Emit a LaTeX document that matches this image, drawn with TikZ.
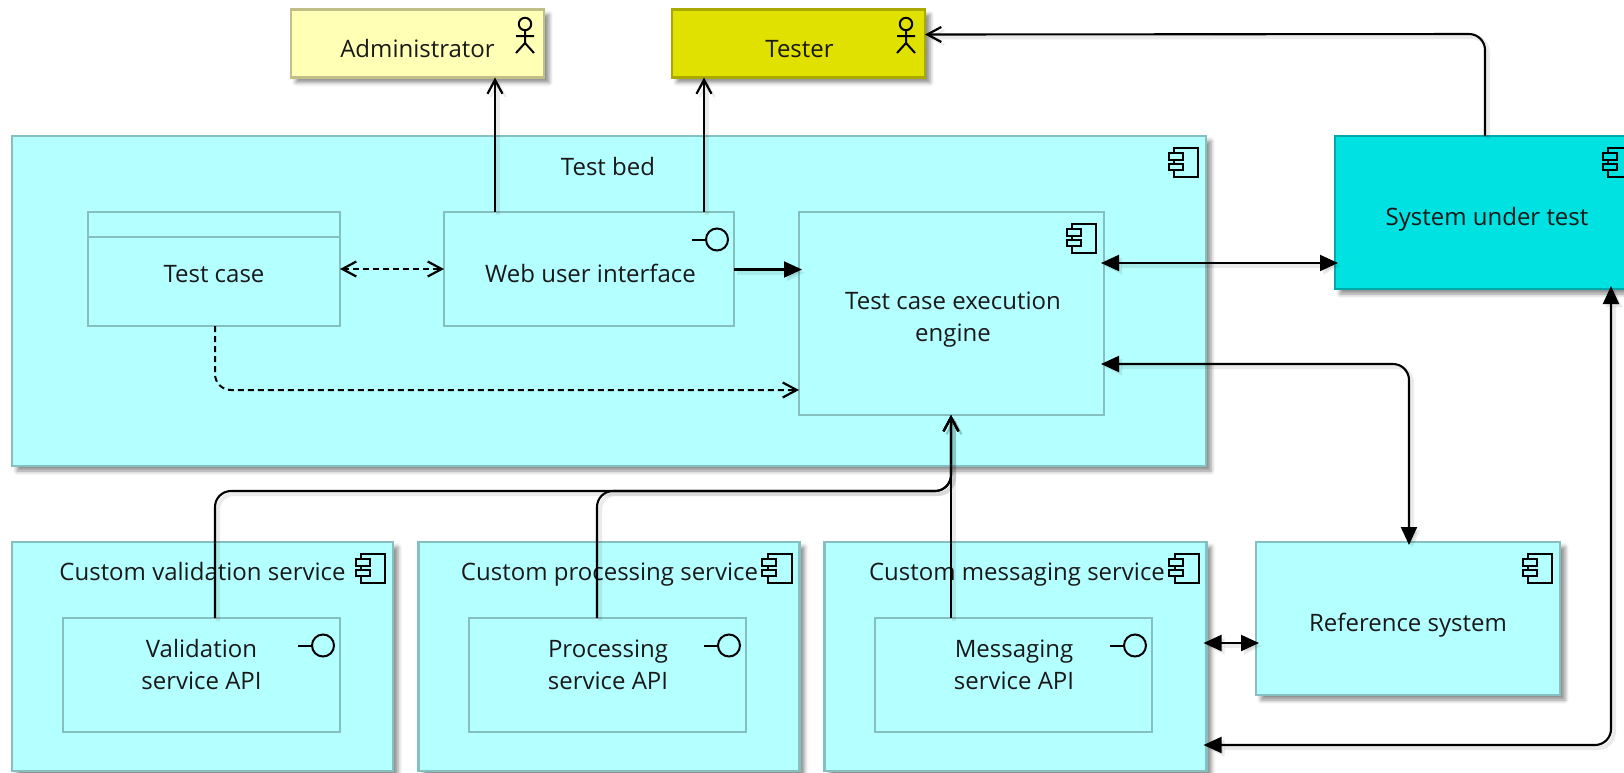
\documentclass[tikz,border=0pt]{standalone}
\usepackage{fontspec}
\setmainfont{Open Sans}
\usetikzlibrary{arrows.meta,calc,shadows.blur}
\definecolor{cyanL}{HTML}{B4FFFF}
\definecolor{cyanB}{HTML}{86BFBF}
\definecolor{cyanD}{HTML}{00E1E1}
\definecolor{cyanDB}{HTML}{00A9A9}
\definecolor{yelL}{HTML}{FFFFB5}
\definecolor{yelLB}{HTML}{BFBF87}
\definecolor{yelD}{HTML}{E1E100}
\definecolor{yelDB}{HTML}{A9A900}
\tikzset{
  base/.style={anchor=north west,inner sep=0pt,outer sep=0pt,line width=2.6pt,draw=cyanB,fill=cyanL},
  outerbox/.style={base,blur shadow={shadow xshift=5pt,shadow yshift=-5pt,shadow blur radius=4pt,shadow opacity=45}},
  innerbox/.style={base},
  txt/.style={inner sep=0pt,align=center,text height=17pt,text depth=5pt,font=\fontsize{24}{32}\selectfont,text=black!90},
  line/.style={line width=2.1pt,draw=black,rounded corners=16pt,
     preaction={draw=black,opacity=.08,line width=4pt,transform canvas={shift={(3pt,-3pt)}}}},
  solidtip/.tip={Triangle[length=18pt,width=16pt]},
  opentip/.tip={Straight Barb[length=14pt,width=15pt,line width=2.2pt]},
  over/.style={shorten <=-3pt,shorten >=-3pt},
  overend/.style={shorten >=-3pt},
  dash line/.style={line width=2pt,draw=black,dash pattern=on 6pt off 4pt,rounded corners=16pt},
  pics/compicon/.style={code={
    \draw[line width=2pt,line join=miter] (-32,12) rectangle (-8,41);
    \draw[line width=2pt,fill=#1] (-37.5,17) rectangle (-23.5,24);
    \draw[line width=2pt,fill=#1] (-37.5,27.5) rectangle (-23.5,34);
  }},
  pics/lolly/.style={code={
    \draw[line width=2pt] (-17,27.5) circle (11);
    \draw[line width=2pt] (-42,27.5) -- (-28,27.5);
  }},
  pics/actoricon/.style={code={
    \draw[line width=2pt] (-19,14.5) circle (6.2);
    \draw[line width=2pt] (-19,20.7) -- (-19,33.5) (-28,26.5) -- (-10,26.5) (-28,43.5) -- (-19,33.5) -- (-10,43.5);
  }},
}
\begin{document}
\begin{tikzpicture}[x=1pt,y=-1pt]
\useasboundingbox (0,0) rectangle (1624,772);
\clip (0,0) rectangle (1624,772);
% actors
\node[outerbox,draw=yelLB,fill=yelL,minimum width=253pt,minimum height=68pt] (admin) at (291,9.5) {};
\node[outerbox,draw=yelDB,fill=yelD,minimum width=253pt,minimum height=68pt] (tester) at (672,9.5) {};
\pic at (admin.north east) {actoricon};
\pic at (tester.north east) {actoricon};
\node[txt] (tadmin) at (417.5,51) {Administrator};
\node[txt] (ttester) at (799.5,51) {Tester};
% test bed
\node[outerbox,minimum width=1194pt,minimum height=330pt] (bed) at (12,136) {};
\pic at (bed.north east) {compicon=cyanL};
\node[txt] (tbed) at (608,169) {Test bed};
\node[innerbox,minimum width=252pt,minimum height=114pt] (case) at (88,212) {};
\draw[line width=2.6pt,draw=cyanB] (88,237) -- (340,237);
\node[txt] (tcase) at (214,276) {Test case};
\node[innerbox,minimum width=290pt,minimum height=114pt] (web) at (444,212) {};
\pic at (web.north east) {lolly};
\node[txt] (tweb) at (590.5,276) {Web user interface};
\node[innerbox,minimum width=305pt,minimum height=203pt] (engine) at (799,212) {};
\pic at (engine.north east) {compicon=cyanL};
\node[txt] (tengine) at (953,335.5) {Test case execution\\engine};
% SUT
\node[outerbox,draw=cyanDB,fill=cyanD,minimum width=305pt,minimum height=153pt] (sut) at (1335,136) {};
\pic at (sut.north east) {compicon=cyanD};
\node[txt] (tsut) at (1487,219) {System under test};
% services
\node[outerbox,minimum width=381pt,minimum height=229pt] (val) at (12,542) {};
\pic at (val.north east) {compicon=cyanL};
\node[txt] (tval) at (202.5,574.7) {Custom validation service};
\node[innerbox,minimum width=277pt,minimum height=114pt] (valapi) at (63,618) {};
\pic at (valapi.north east) {lolly};
\node[txt] (tvalapi) at (201.5,683) {Validation\\service API};
\node[outerbox,minimum width=381pt,minimum height=229pt] (proc) at (418.5,542) {};
\pic at (proc.north east) {compicon=cyanL};
\node[txt] (tproc) at (609.5,574.7) {Custom processing service};
\node[innerbox,minimum width=277pt,minimum height=114pt] (procapi) at (469,618) {};
\pic at (procapi.north east) {lolly};
\node[txt] (tprocapi) at (608,683) {Processing\\service API};
\node[outerbox,minimum width=382pt,minimum height=229pt] (msg) at (824.5,542) {};
\pic at (msg.north east) {compicon=cyanL};
\node[txt] (tmsg) at (1017,574.7) {Custom messaging service};
\node[innerbox,minimum width=277pt,minimum height=114pt] (msgapi) at (875,618) {};
\pic at (msgapi.north east) {lolly};
\node[txt] (tmsgapi) at (1014,683) {Messaging\\service API};
\node[outerbox,minimum width=304pt,minimum height=153pt] (ref) at (1256,542) {};
\pic at (ref.north east) {compicon=cyanL};
\node[txt] (tref) at (1408,625.7) {Reference system};
% connectors
\draw[line,-opentip] ($(web.north west)+(51,0)$) -- ($(admin.south west)+(204,0)$);
\draw[line,-opentip] ($(web.north west)+(260,0)$) -- ($(tester.south west)+(32,0)$);
\draw[line,-opentip] ($(sut.north west)+(150,0)$) -- ($(sut.north west)+(150,-102)$) -- ($(tester.north east)+(0,25)$);
\draw[dash line,opentip-opentip] ($(case.north east)+(0,57)$) -- ($(web.north west)+(0,57)$);
\draw[line,overend,-solidtip] ($(web.north east)+(0,57.5)$) -- ($(engine.north west)+(0,57.5)$);
\draw[dash line,-opentip] ($(case.south west)+(127,0)$) -- ($(case.south west)+(127,64)$) -- ($(engine.south west)+(0,-25)$);
\draw[line,over,solidtip-solidtip] ($(engine.north east)+(0,51)$) -- ($(sut.north west)+(0,127)$);
\draw[line,over,solidtip-solidtip] ($(engine.north east)+(0,152)$) -- ($(ref.north west)+(153,-178)$) -- ($(ref.north west)+(153,0)$);
\draw[line,-opentip] ($(valapi.north west)+(152,0)$) -- ($(valapi.north west)+(152,-127)$) -- ($(engine.south west)+(152,76)$) -- ($(engine.south west)+(152,0)$);
\draw[line,-opentip] ($(procapi.north west)+(128,0)$) -- ($(procapi.north west)+(128,-127)$) -- ($(engine.south west)+(152,76)$) -- ($(engine.south west)+(152,0)$);
\draw[line,-opentip] ($(msgapi.north west)+(76,0)$) -- ($(engine.south west)+(152,0)$);
\draw[line,over,solidtip-solidtip] ($(msg.north east)+(0,101)$) -- ($(ref.north west)+(0,101)$);
\draw[line,over,solidtip-solidtip] ($(sut.south west)+(276,0)$) -- ($(sut.south west)+(276,456)$) -- ($(msg.north east)+(0,203)$);
\end{tikzpicture}
\end{document}
